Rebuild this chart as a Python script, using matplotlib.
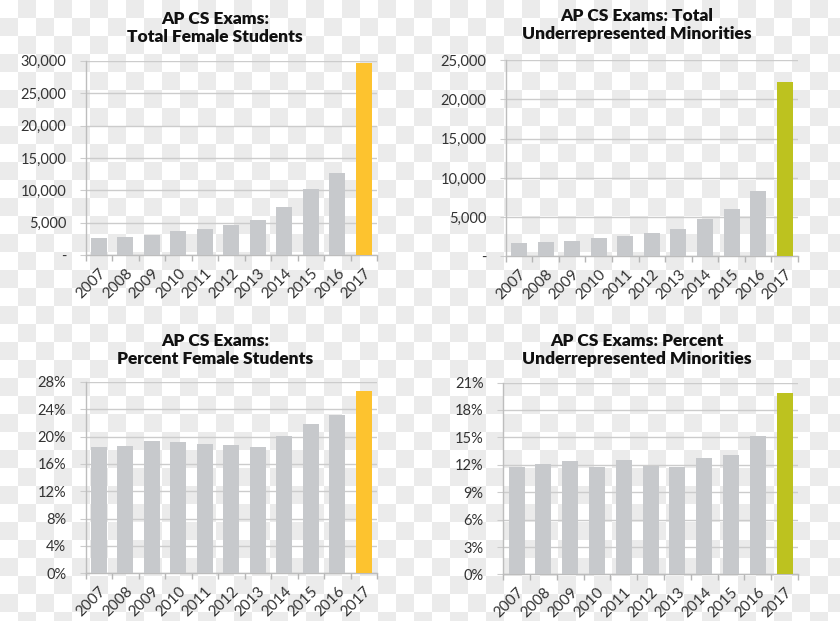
import numpy as np
import matplotlib
matplotlib.use("Agg")
import matplotlib.pyplot as plt
from matplotlib.ticker import FuncFormatter

plt.rcParams['font.family'] = ['Lato', 'DejaVu Sans']

years = ['2007', '2008', '2009', '2010', '2011', '2012', '2013', '2014', '2015', '2016', '2017']

# values
female_total = [2670, 2830, 3130, 3700, 4060, 4680, 5500, 7500, 10170, 12690, 29710]
urm_total = [1700, 1830, 2000, 2290, 2590, 2930, 3520, 4750, 6070, 8280, 22200]
female_pct = [18.4, 18.6, 19.3, 19.2, 18.9, 18.8, 18.5, 20.1, 21.9, 23.2, 26.7]
urm_pct = [11.8, 12.1, 12.4, 11.8, 12.5, 11.9, 11.8, 12.7, 13.1, 15.2, 19.9]

grey = '#c7c9cc'
yellow = '#fdc32f'
green = '#bdc21f'

W, H = 840, 621
fig = plt.figure(figsize=(W / 100, H / 100), dpi=100)

# transparency checkerboard like the reference background
sq = 18
yy, xx = np.mgrid[0:H, 0:W]
board = ((yy // sq + xx // sq) % 2).astype(float)
img = np.where(board[..., None] == 1, 0.925, 1.0) * np.ones((H, W, 3))
fig.figimage(img, xo=0, yo=0, origin='upper', zorder=-10)


def fmt_count(v, pos):
    return '-' if v == 0 else f'{int(v):,}'


def fmt_pct(v, pos):
    return f'{int(round(v))}%'


def bar_panel(rect, values, hi_color, ymax, step, fmt, title, title_xy):
    ax = fig.add_axes(rect)
    ax.set_facecolor('none')
    x = np.arange(len(years))
    colors = [grey] * (len(years) - 1) + [hi_color]
    ax.bar(x, values, width=0.6, color=colors, zorder=3)
    ax.set_xlim(-0.5, len(years) - 0.5)
    ax.set_ylim(0, ymax)
    ax.set_yticks(np.arange(0, ymax + step / 2, step))
    ax.yaxis.set_major_formatter(FuncFormatter(fmt))
    ax.set_xticks(x)
    ax.set_xticklabels(years, rotation=45, ha='right', rotation_mode='anchor')
    ax.set_xticks(np.arange(-0.5, len(years), 1), minor=True)
    ax.tick_params(axis='x', which='major', length=0, pad=8, labelsize=11, labelcolor='#333333')
    ax.tick_params(axis='x', which='minor', length=4, color='#b5b5b5', width=1)
    ax.tick_params(axis='y', length=4, color='#cccccc', pad=10, labelsize=10.5, labelcolor='#333333')
    ax.grid(axis='y', color='#cccccc', linewidth=1, zorder=0)
    for s in ['top', 'right']:
        ax.spines[s].set_visible(False)
    for s in ['left', 'bottom']:
        ax.spines[s].set_color('#bdbdbd')
        ax.spines[s].set_linewidth(1)
    fig.text(title_xy[0], title_xy[1], title, ha='center', va='center',
             fontsize=12.5, fontweight='heavy', color='#111111', linespacing=1.15)
    return ax


bar_panel([0.102, 0.589, 0.347, 0.313], female_total, yellow, 30000, 5000, fmt_count,
          'AP CS Exams:\nTotal Female Students', (215 / W, 1 - 28 / H))
bar_panel([0.602, 0.587, 0.348, 0.316], urm_total, green, 25000, 5000, fmt_count,
          'AP CS Exams: Total\nUnderrepresented Minorities', (637 / W, 1 - 25 / H))
bar_panel([0.102, 0.077, 0.347, 0.308], female_pct, yellow, 28, 4, fmt_pct,
          'AP CS Exams:\nPercent Female Students', (215 / W, 1 - 350 / H))
bar_panel([0.599, 0.075, 0.351, 0.309], urm_pct, green, 21, 3, fmt_pct,
          'AP CS Exams: Percent\nUnderrepresented Minorities', (637 / W, 1 - 350 / H))

fig.savefig('out.png', dpi=100)
